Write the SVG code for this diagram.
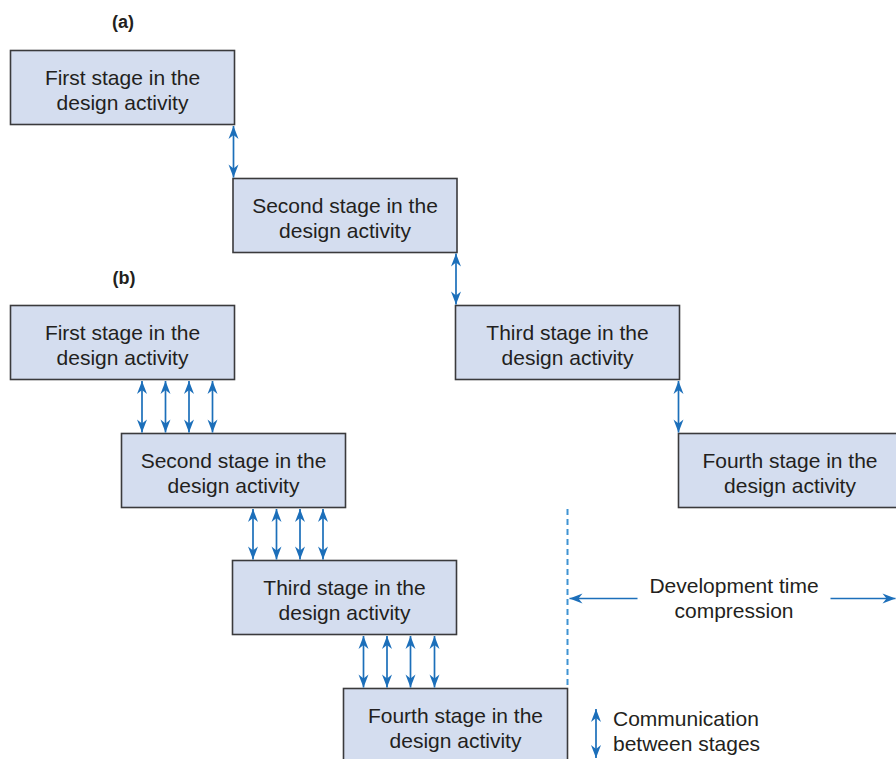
<svg xmlns="http://www.w3.org/2000/svg" width="896" height="759" viewBox="0 0 896 759">
<defs>
<style>
.box{fill:#d4ddef;stroke:#3a3a3c;stroke-width:1.6}
.t{font-family:"Liberation Sans",Arial,sans-serif;font-size:21px;fill:#231f20;text-anchor:middle}
.lbl{font-family:"Liberation Sans",Arial,sans-serif;font-size:18px;font-weight:bold;fill:#231f20;text-anchor:middle}
.lt{font-family:"Liberation Sans",Arial,sans-serif;font-size:21px;fill:#231f20}
.arr{stroke:#1c6fba;stroke-width:1.7;fill:none;marker-start:url(#ah);marker-end:url(#ah)}
.arr1{stroke:#1c6fba;stroke-width:1.7;fill:none;marker-end:url(#ah)}
.dash{stroke:#3f93d3;stroke-width:2;stroke-dasharray:6 4;fill:none}
</style>
<marker id="ah" viewBox="-14 -6 15 12" refX="0" refY="0" markerWidth="15" markerHeight="12" markerUnits="userSpaceOnUse" orient="auto-start-reverse">
<path d="M0,0 L-13,-5 L-9,0 L-13,5 Z" fill="#1c6fba"/>
</marker>
</defs>
<rect width="896" height="759" fill="#ffffff"/>
<text class="lbl" x="123" y="28">(a)</text>
<text class="lbl" x="124" y="284">(b)</text>
<g id="a1"><rect class="box" x="10.5" y="50.5" width="224" height="74"/><text class="t" x="122.5" y="84.5">First stage in the</text><text class="t" x="122.5" y="109.5">design activity</text></g>
<g id="a2"><rect class="box" x="233" y="178.5" width="224" height="74"/><text class="t" x="345" y="212.5">Second stage in the</text><text class="t" x="345" y="237.5">design activity</text></g>
<g id="a3"><rect class="box" x="455.5" y="305.5" width="224" height="74"/><text class="t" x="567.5" y="339.5">Third stage in the</text><text class="t" x="567.5" y="364.5">design activity</text></g>
<g id="a4"><rect class="box" x="678.5" y="433.5" width="224" height="74"/><text class="t" x="790" y="467.5">Fourth stage in the</text><text class="t" x="790" y="492.5">design activity</text></g>
<g id="b1"><rect class="box" x="10.5" y="305.5" width="224" height="74"/><text class="t" x="122.5" y="339.5">First stage in the</text><text class="t" x="122.5" y="364.5">design activity</text></g>
<g id="b2"><rect class="box" x="121.5" y="433.5" width="224" height="74"/><text class="t" x="233.5" y="467.5">Second stage in the</text><text class="t" x="233.5" y="492.5">design activity</text></g>
<g id="b3"><rect class="box" x="232.5" y="560.5" width="224" height="74"/><text class="t" x="344.5" y="594.5">Third stage in the</text><text class="t" x="344.5" y="619.5">design activity</text></g>
<g id="b4"><rect class="box" x="343.5" y="688.5" width="224" height="74"/><text class="t" x="455.5" y="722.5">Fourth stage in the</text><text class="t" x="455.5" y="747.5">design activity</text></g>
<g id="connectors">
<line class="arr" x1="233.5" y1="126" x2="233.5" y2="177.5"/>
<line class="arr" x1="456" y1="253.5" x2="456" y2="304.5"/>
<line class="arr" x1="678.5" y1="381" x2="678.5" y2="432.5"/>
<line class="arr" x1="142" y1="381" x2="142" y2="432.5"/>
<line class="arr" x1="165.5" y1="381" x2="165.5" y2="432.5"/>
<line class="arr" x1="189" y1="381" x2="189" y2="432.5"/>
<line class="arr" x1="212.5" y1="381" x2="212.5" y2="432.5"/>
<line class="arr" x1="253" y1="509" x2="253" y2="559.5"/>
<line class="arr" x1="276.5" y1="509" x2="276.5" y2="559.5"/>
<line class="arr" x1="300" y1="509" x2="300" y2="559.5"/>
<line class="arr" x1="323" y1="509" x2="323" y2="559.5"/>
<line class="arr" x1="363.5" y1="636" x2="363.5" y2="687.5"/>
<line class="arr" x1="387" y1="636" x2="387" y2="687.5"/>
<line class="arr" x1="410.5" y1="636" x2="410.5" y2="687.5"/>
<line class="arr" x1="434.5" y1="636" x2="434.5" y2="687.5"/>
<line class="dash" x1="567.5" y1="509" x2="567.5" y2="688"/>
<line class="arr1" x1="637.5" y1="598.5" x2="569.5" y2="598.5"/>
<line class="arr1" x1="830.5" y1="598.5" x2="895.5" y2="598.5"/>
<line class="arr" x1="596" y1="709" x2="596" y2="758"/>
</g>
<text class="t" x="734" y="592.5">Development time</text>
<text class="t" x="734" y="618">compression</text>
<text class="lt" x="613" y="725.5">Communication</text>
<text class="lt" x="613" y="750.5">between stages</text>
</svg>
